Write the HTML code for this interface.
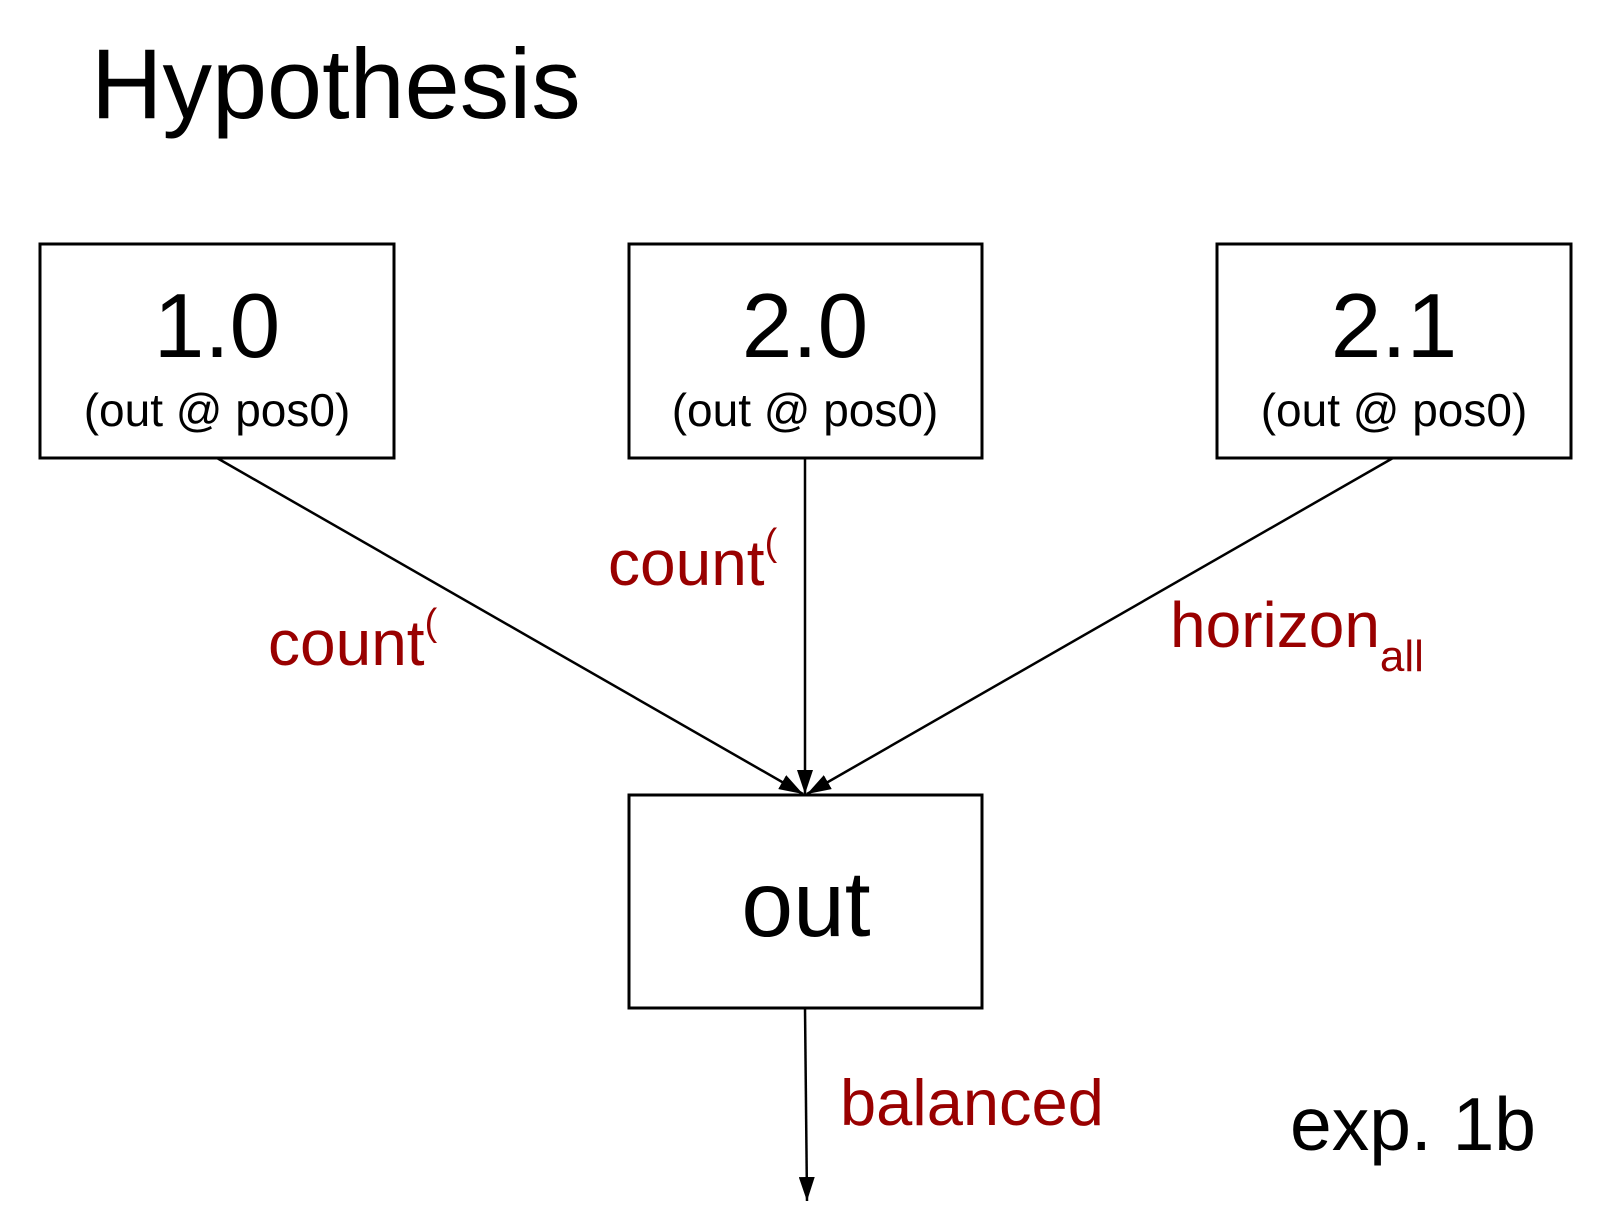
<!DOCTYPE html>
<html><head><meta charset="utf-8"><style>
html,body{margin:0;padding:0;background:#fff;}
svg{display:block;}
text{font-family:"Liberation Sans",Arial,sans-serif;}
</style></head><body>
<svg width="1616" height="1218" viewBox="0 0 1616 1218" xmlns="http://www.w3.org/2000/svg">
<defs>
<marker id="ah2" markerWidth="24" markerHeight="16" refX="24" refY="8" orient="auto" markerUnits="userSpaceOnUse" viewBox="0 0 24 16">
<path d="M0,0 L24,8 L0,16 Z" fill="#000"/>
</marker>
</defs>
<text x="91" y="118" font-size="99">Hypothesis</text>

<rect x="40" y="244" width="354" height="214" fill="none" stroke="#000" stroke-width="3"/>
<rect x="629" y="244" width="353" height="214" fill="none" stroke="#000" stroke-width="3"/>
<rect x="1217" y="244" width="354" height="214" fill="none" stroke="#000" stroke-width="3"/>
<rect x="629" y="795" width="353" height="213" fill="none" stroke="#000" stroke-width="3"/>

<text x="217" y="357" font-size="91" text-anchor="middle">1.0</text>
<text x="217" y="426" font-size="46" text-anchor="middle">(out @ pos0)</text>
<text x="805" y="357" font-size="91" text-anchor="middle">2.0</text>
<text x="805" y="426" font-size="46" text-anchor="middle">(out @ pos0)</text>
<text x="1394" y="357" font-size="91" text-anchor="middle">2.1</text>
<text x="1394" y="426" font-size="46" text-anchor="middle">(out @ pos0)</text>
<text x="806" y="936" font-size="93" text-anchor="middle">out</text>

<line x1="217" y1="458" x2="803" y2="794" stroke="#000" stroke-width="2.5" marker-end="url(#ah2)"/>
<line x1="805" y1="458" x2="805" y2="794" stroke="#000" stroke-width="2.5" marker-end="url(#ah2)"/>
<line x1="1393" y1="458" x2="807" y2="794" stroke="#000" stroke-width="2.5" marker-end="url(#ah2)"/>
<line x1="805" y1="1008" x2="807" y2="1201" stroke="#000" stroke-width="2.5" marker-end="url(#ah2)"/>

<g fill="#990000">
<text x="268" y="665" font-size="64">count<tspan font-size="38" dy="-30">(</tspan></text>
<text x="608" y="585" font-size="64">count<tspan font-size="38" dy="-30">(</tspan></text>
<text x="1170" y="647" font-size="64">horizon<tspan font-size="44" dy="24">all</tspan></text>
<text x="840" y="1125" font-size="65">balanced</text>
</g>
<text x="1290" y="1150" font-size="75">exp. 1b</text>
</svg>
</body></html>
